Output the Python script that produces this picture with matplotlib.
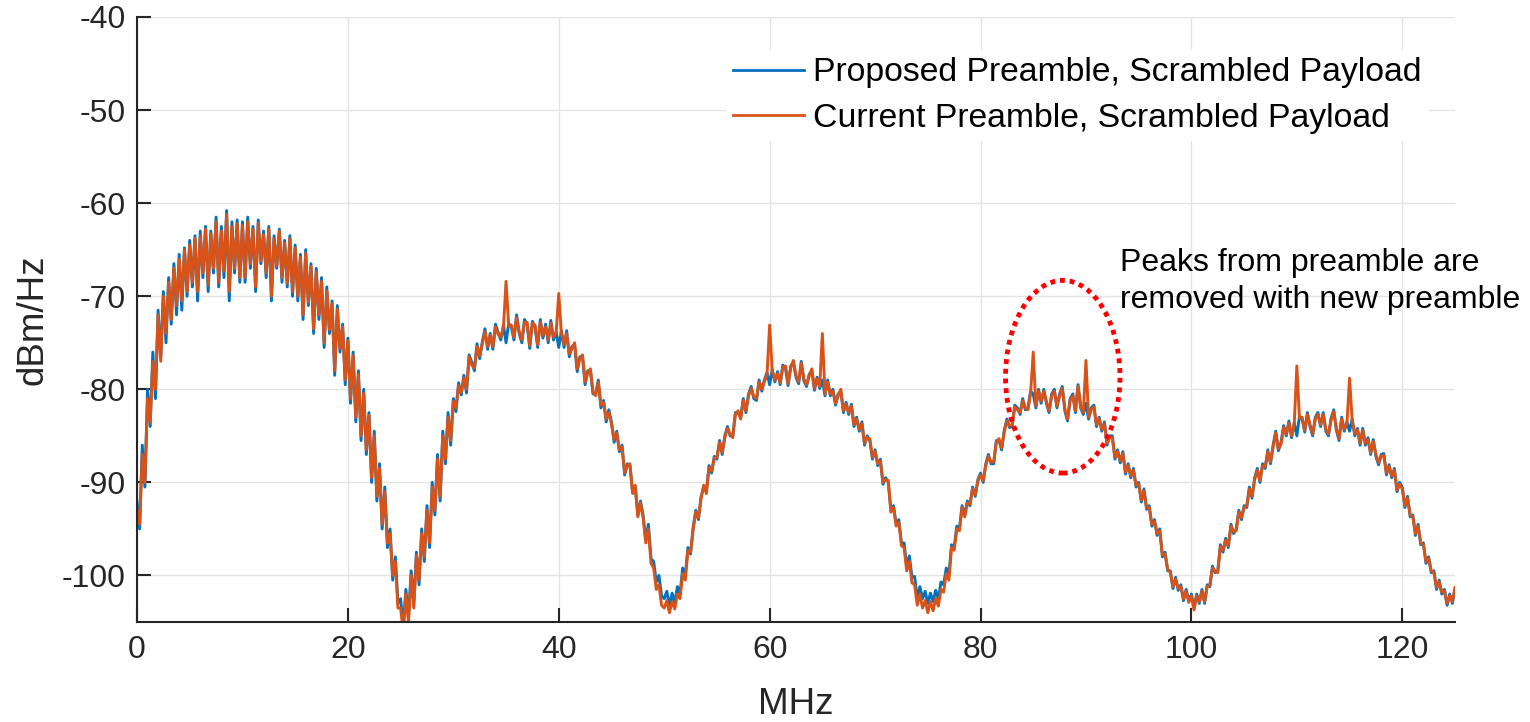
import numpy as np
import matplotlib
matplotlib.use("Agg")
import matplotlib.pyplot as plt
from matplotlib.patches import Ellipse

plt.rcParams['font.family'] = ['Liberation Sans', 'DejaVu Sans']
plt.rcParams['axes.unicode_minus'] = False

# frequency grid (MHz), 0.25 MHz resolution
freq_step = 0.25
freq_max = 125.0

# Proposed preamble PSD (dBm/Hz)
proposed = [
    -92.0, -95.0, -86.0, -90.5, -80.0, -84.0, -76.0, -81.0, -71.5, -76.5, -69.5, -75.0, -68.0, -73.0, -66.5, -72.0, -65.5, -71.5, -64.8, -70.0,
    -64.0, -69.0, -63.5, -70.5, -63.0, -68.0, -62.5, -69.5, -63.0, -67.5, -61.5, -69.0, -62.5, -68.0, -60.8, -70.5, -62.0, -67.5, -61.8, -68.5,
    -62.0, -68.5, -61.5, -67.0, -62.5, -69.5, -61.8, -66.5, -63.0, -68.0, -62.5, -70.5, -63.5, -67.0, -62.8, -68.5, -64.0, -69.0, -63.5, -70.0,
    -64.5, -70.5, -65.5, -72.5, -65.0, -71.0, -66.5, -74.0, -67.0, -72.5, -68.0, -75.5, -69.0, -74.0, -70.5, -78.5, -71.0, -76.0, -73.0, -79.5,
    -74.5, -81.5, -76.0, -83.5, -78.0, -85.5, -80.0, -87.0, -82.5, -90.0, -84.5, -92.0, -88.0, -95.0, -90.5, -97.0, -95.0, -100.5, -98.0, -103.0,
    -102.5, -105.5, -101.5, -104.5, -99.5, -103.0, -97.5, -101.0, -95.0, -98.5, -92.5, -97.0, -90.0, -93.5, -87.0, -92.0, -84.5, -88.0, -82.5, -86.0,
    -81.0, -82.4, -79.3, -80.6, -78.5, -80.4, -76.3, -77.1, -78.0, -75.1, -76.7, -74.9, -73.5, -75.7, -74.0, -75.7, -73.0, -73.9, -74.7, -73.1,
    -75.0, -72.9, -73.3, -74.7, -72.0, -74.0, -75.0, -72.5, -73.0, -75.6, -72.7, -73.3, -75.5, -72.5, -74.5, -73.0, -75.0, -72.6, -74.7, -73.8,
    -75.5, -73.7, -75.5, -73.7, -76.5, -75.4, -75.2, -78.1, -76.5, -76.5, -79.5, -78.0, -78.0, -80.5, -80.5, -79.0, -82.0, -81.2, -83.5, -82.2,
    -83.5, -85.7, -84.5, -86.7, -86.0, -89.2, -88.0, -88.2, -91.0, -90.5, -93.5, -92.0, -93.5, -96.2, -94.5, -98.2, -98.5, -100.7, -100.0, -102.2,
    -102.5, -101.7, -103.3, -101.9, -103.0, -101.2, -102.0, -99.2, -100.0, -97.0, -97.7, -94.8, -93.0, -94.0, -91.5, -90.5, -91.0, -88.2, -89.0, -87.2,
    -87.5, -85.5, -87.0, -85.0, -84.0, -85.0, -85.0, -82.5, -82.5, -83.0, -81.0, -82.5, -80.5, -79.7, -81.0, -81.2, -79.0, -80.2, -79.0, -78.2,
    -79.5, -77.9, -79.2, -78.1, -79.5, -77.4, -77.7, -79.6, -77.5, -77.1, -78.7, -79.4, -77.0, -79.1, -79.7, -78.4, -78.0, -80.1, -78.7, -79.9,
    -79.0, -80.7, -79.0, -80.7, -80.0, -81.7, -80.5, -80.2, -82.5, -81.4, -82.7, -81.6, -84.0, -83.0, -84.5, -83.5, -86.0, -85.0, -85.5, -87.5,
    -86.5, -88.2, -87.5, -90.2, -89.5, -90.0, -93.0, -92.5, -94.5, -94.0, -96.5, -96.5, -99.0, -97.9, -100.2, -100.1, -102.5, -101.2, -102.5, -101.7,
    -103.0, -101.9, -102.8, -101.6, -102.5, -100.7, -101.0, -99.2, -100.0, -96.7, -97.0, -94.7, -95.0, -92.5, -93.5, -92.0, -92.5, -90.5, -91.5, -89.7,
    -89.0, -90.0, -88.0, -87.0, -88.0, -88.0, -85.5, -85.5, -86.5, -84.4, -83.2, -84.1, -84.0, -81.7, -82.0, -82.7, -81.0, -82.2, -82.0, -80.2,
    -80.5, -82.0, -80.0, -81.5, -80.0, -81.5, -82.5, -80.5, -80.0, -82.0, -80.5, -79.7, -82.3, -83.4, -81.0, -80.5, -82.5, -79.5, -82.0, -82.7,
    -81.5, -83.2, -82.0, -81.7, -84.0, -83.0, -84.5, -83.5, -86.0, -85.0, -85.0, -87.5, -86.5, -87.9, -86.7, -89.1, -88.0, -89.5, -88.5, -90.5,
    -90.0, -92.1, -90.7, -92.9, -92.5, -94.7, -94.0, -95.7, -95.0, -98.0, -97.5, -99.5, -99.5, -101.4, -100.2, -101.6, -101.0, -102.7, -101.5, -102.7,
    -102.0, -103.5, -102.0, -103.0, -101.5, -103.0, -101.0, -101.2, -99.0, -99.7, -99.5, -96.7, -97.5, -96.0, -97.0, -94.5, -95.5, -95.0, -93.0, -94.0,
    -92.5, -92.7, -90.5, -91.7, -89.5, -88.5, -90.0, -88.0, -88.5, -86.5, -88.0, -86.0, -84.5, -86.6, -85.7, -83.9, -85.0, -83.4, -85.2, -83.6,
    -85.0, -82.9, -83.2, -84.6, -82.5, -84.0, -85.0, -83.0, -82.5, -84.0, -82.5, -84.5, -85.0, -83.1, -82.2, -84.4, -85.5, -83.0, -84.5, -83.5,
    -84.5, -83.2, -85.0, -84.2, -86.0, -84.2, -86.0, -85.2, -87.0, -85.4, -87.2, -88.1, -87.0, -86.9, -89.2, -88.1, -89.5, -88.5, -91.0, -90.0,
    -90.5, -92.7, -91.5, -93.7, -93.5, -95.7, -94.5, -96.7, -96.5, -98.7, -98.0, -99.7, -99.5, -101.5, -100.5, -102.0, -101.5, -103.2, -102.0, -103.0,
    -101.5,
]

# Current preamble PSD (dBm/Hz)
current = [
    -93.0, -94.5, -87.0, -90.0, -81.0, -83.5, -77.0, -80.0, -72.0, -77.0, -70.0, -74.0, -68.5, -72.5, -67.0, -71.0, -66.0, -70.5, -65.0, -69.5,
    -64.5, -68.5, -63.8, -69.5, -63.5, -67.5, -62.8, -68.8, -63.3, -67.0, -62.0, -68.5, -63.0, -67.3, -61.2, -69.5, -62.5, -67.0, -62.2, -68.0,
    -62.4, -68.0, -62.0, -66.5, -62.8, -69.0, -62.2, -66.2, -63.4, -67.5, -62.8, -70.0, -63.8, -66.7, -63.0, -68.0, -64.3, -68.6, -63.8, -69.5,
    -64.8, -70.0, -65.8, -72.0, -65.4, -70.6, -66.8, -73.5, -67.4, -72.0, -68.4, -75.0, -69.4, -73.6, -70.8, -78.0, -71.4, -75.6, -73.3, -79.0,
    -74.8, -81.0, -76.4, -83.0, -78.4, -85.0, -80.4, -86.5, -82.8, -89.5, -85.0, -91.5, -88.5, -94.5, -91.0, -96.5, -95.5, -100.0, -98.5, -103.5,
    -103.5, -106.0, -102.0, -105.0, -100.0, -103.5, -97.8, -100.5, -95.5, -98.0, -93.0, -96.5, -90.5, -93.0, -87.5, -91.5, -85.0, -87.5, -83.0, -85.5,
    -81.3, -82.0, -79.6, -80.3, -78.8, -80.0, -76.5, -77.4, -77.7, -75.4, -76.4, -75.1, -73.8, -75.4, -74.2, -75.4, -73.3, -74.1, -74.4, -73.4,
    -68.4, -73.2, -73.1, -74.4, -72.3, -73.8, -74.7, -72.8, -72.8, -75.3, -72.9, -73.1, -75.2, -72.8, -74.2, -73.3, -74.7, -72.9, -74.4, -74.0,
    -69.7, -74.0, -75.2, -74.0, -76.2, -75.6, -75.0, -77.8, -76.7, -76.3, -79.2, -78.2, -77.8, -80.3, -80.7, -79.2, -81.7, -81.4, -83.2, -82.5,
    -83.7, -85.4, -84.7, -86.5, -86.2, -89.0, -88.2, -88.0, -91.2, -90.3, -93.7, -92.2, -93.8, -96.5, -95.0, -98.7, -99.2, -101.5, -101.0, -103.2,
    -103.5, -102.7, -104.0, -102.8, -103.6, -102.0, -102.5, -99.8, -100.5, -97.3, -97.5, -95.0, -93.2, -93.8, -91.7, -90.3, -91.2, -88.4, -88.8, -87.4,
    -87.3, -85.7, -86.8, -85.2, -84.2, -84.8, -85.2, -82.7, -82.3, -83.2, -81.2, -82.3, -80.7, -79.9, -80.8, -81.0, -79.2, -80.0, -79.2, -78.4,
    -73.1, -78.1, -79.0, -78.3, -79.3, -77.6, -77.5, -79.4, -77.7, -76.9, -78.5, -79.2, -77.2, -78.9, -79.5, -78.6, -77.8, -79.9, -78.9, -79.7,
    -74.0, -80.5, -79.2, -80.5, -80.2, -81.5, -80.7, -80.0, -82.3, -81.6, -82.5, -81.8, -83.8, -83.2, -84.3, -83.7, -85.8, -85.2, -85.3, -87.3,
    -86.7, -88.0, -87.7, -90.0, -89.7, -89.8, -93.2, -92.7, -94.7, -94.3, -96.8, -97.0, -99.5, -98.5, -100.8, -101.0, -103.2, -102.0, -103.5, -102.7,
    -104.0, -102.8, -103.8, -102.5, -103.3, -101.5, -101.8, -99.8, -100.5, -97.0, -97.3, -95.0, -95.2, -92.7, -93.7, -92.2, -92.3, -90.7, -91.3, -89.9,
    -89.2, -89.8, -88.2, -87.2, -87.8, -87.8, -85.7, -85.3, -86.3, -84.6, -83.4, -83.9, -83.8, -81.9, -82.2, -82.5, -81.2, -82.0, -82.2, -80.4,
    -76.0, -81.8, -80.2, -81.3, -80.2, -81.3, -82.3, -80.7, -80.2, -81.8, -80.7, -79.9, -82.1, -83.2, -81.2, -80.7, -82.3, -79.7, -81.8, -82.5,
    -76.9, -83.0, -82.2, -81.9, -83.8, -83.2, -84.3, -83.7, -85.8, -85.2, -85.2, -87.3, -86.7, -87.7, -86.9, -88.9, -88.2, -89.3, -88.7, -90.3,
    -90.2, -91.9, -90.9, -92.7, -92.7, -94.5, -94.2, -95.5, -95.2, -97.8, -97.7, -99.3, -99.7, -101.2, -100.4, -101.4, -101.2, -102.5, -101.7, -102.9,
    -102.2, -103.7, -102.2, -102.8, -101.7, -102.8, -101.2, -101.0, -99.2, -99.5, -99.7, -96.9, -97.3, -96.2, -96.8, -94.7, -95.3, -95.2, -93.2, -93.8,
    -92.7, -92.5, -90.7, -91.5, -89.7, -88.7, -89.8, -88.2, -88.3, -86.7, -87.8, -86.2, -84.7, -86.4, -85.9, -84.1, -84.8, -83.6, -85.0, -83.8,
    -77.5, -83.1, -83.0, -84.4, -82.7, -83.8, -84.8, -83.2, -82.7, -83.8, -82.7, -84.3, -84.8, -83.3, -82.4, -84.2, -85.3, -83.2, -84.3, -83.7,
    -78.8, -83.4, -84.8, -84.4, -85.8, -84.4, -85.8, -85.4, -86.8, -85.6, -87.0, -87.9, -87.2, -87.1, -89.0, -88.3, -89.3, -88.7, -90.8, -90.2,
    -90.7, -92.5, -91.7, -93.5, -93.7, -95.5, -94.7, -96.5, -96.7, -98.5, -98.2, -99.5, -99.7, -101.3, -100.7, -101.8, -101.7, -103.0, -102.2, -102.8,
    -101.3,
]

xticks = [0, 20, 40, 60, 80, 100, 120]
yticks = [-100, -90, -80, -70, -60, -50, -40]
series_labels = ['Proposed Preamble, Scrambled Payload', 'Current Preamble, Scrambled Payload']
note_lines = ['Peaks from preamble are', 'removed with new preamble']

freq = np.arange(len(proposed)) * freq_step

W, H = 1530, 722
fig = plt.figure(figsize=(W / 100, H / 100), dpi=100)
ax = fig.add_axes([137 / W, 1 - 622 / H, (1455 - 137) / W, (622 - 17) / H])

ax.plot(freq, proposed, color='#0072BD', lw=2.1, label=series_labels[0])
ax.plot(freq, current, color='#D95319', lw=2.1, label=series_labels[1])

ax.set_xlim(0, freq_max)
ax.set_ylim(-105, -40)
ax.set_xticks(xticks)
ax.set_yticks(yticks)
ax.grid(True, color='#E4E4E4', lw=1.0)
ax.set_axisbelow(True)
for s in ['top', 'right']:
    ax.spines[s].set_visible(False)
for s in ['left', 'bottom']:
    ax.spines[s].set_color('#262626')
    ax.spines[s].set_linewidth(1.5)
ax.tick_params(direction='in', length=10, width=1.5, color='#262626',
               labelsize=23, labelcolor='#262626')
ax.tick_params(axis='y', pad=8)
ax.tick_params(axis='x', pad=9)

ax.set_xlabel('MHz', fontsize=26.5, color='#262626')
ax.set_ylabel('dBm/Hz', fontsize=26.5, color='#262626')
ax.xaxis.set_label_coords(0.5, -0.107)
ax.yaxis.set_label_coords(-0.066, 0.5)

leg = ax.legend(loc='upper left', bbox_to_anchor=(726 / W, 1 - 50 / H),
                bbox_transform=fig.transFigure, fontsize=24.3, frameon=True,
                fancybox=False, edgecolor='none', facecolor='white', framealpha=1,
                borderpad=0.22, borderaxespad=0, handlelength=2.1,
                handletextpad=0.25, labelspacing=0.43)
for t in leg.get_texts():
    t.set_color('black')
for h in leg.get_lines():
    h.set_linewidth(2.0)

ax.add_patch(Ellipse((87.8, -78.65), 10.85, 20.7, fill=False, edgecolor='#FF0000',
                     lw=3.5, linestyle=(0, (1, 1)), clip_on=False, zorder=5))

fig.text(1120 / W, 1 - 263 / H, note_lines[0], fontsize=23, va='center', ha='left')
fig.text(1120 / W, 1 - 300 / H, note_lines[1], fontsize=23, va='center', ha='left')

fig.savefig('out.png', dpi=100)
